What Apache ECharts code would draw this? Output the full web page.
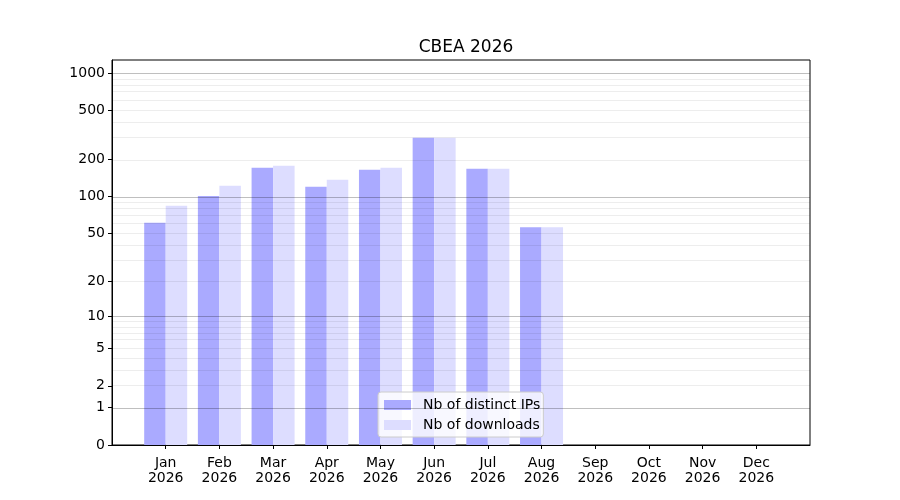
<!DOCTYPE html>
<html>
<head>
<meta charset="utf-8">
<script src="https://cdn.jsdelivr.net/npm/echarts@6/dist/echarts.min.js"></script>
<style>
  html, body { margin: 0; padding: 0; background: #fff; }
  #chart { width: 900px; height: 500px; }
</style>
</head>
<body>
<div id="chart"></div>
<script>
    // months of 2026
    var months = ['Jan', 'Feb', 'Mar', 'Apr', 'May', 'Jun', 'Jul', 'Aug', 'Sep', 'Oct', 'Nov', 'Dec'];
    var year = '2026';
    var distinctIPs = [61, 101, 171, 120, 165, 299, 168, 56, 0, 0, 0, 0];
    var downloads = [84, 122, 178, 137, 171, 299, 168, 56, 0, 0, 0, 0];
    var yTicks = [0, 1, 2, 5, 10, 20, 50, 100, 200, 500, 1000];
    var majorGrid = [1, 10, 100, 1000];
    var minorGrid = [2, 3, 4, 5, 6, 7, 8, 9, 20, 30, 40, 50, 60, 70, 80, 90, 200, 300, 400, 500, 600, 700, 800, 900];

    // y axis is log10(1 + x)
    function tr(v) { return Math.log10(1 + v); }

    var myChart = echarts.init(document.getElementById('chart'));
    var font = 'DejaVu Sans';

    var gridLines = [];
    minorGrid.forEach(function (v) {
        gridLines.push({ yAxis: tr(v), lineStyle: { color: 'rgba(0,0,0,0.07)', width: 1, type: 'solid' } });
    });
    majorGrid.forEach(function (v) {
        gridLines.push({ yAxis: tr(v), lineStyle: { color: 'rgba(0,0,0,0.25)', width: 1, type: 'solid' } });
    });

    var option = {
        animation: false,
        textStyle: { fontFamily: font },
        title: {
            text: 'CBEA 2026',
            left: 461,
            textAlign: 'center',
            top: 34,
            textStyle: { fontFamily: font, fontSize: 17, fontWeight: 'normal', color: '#000' }
        },
        grid: {
            left: 112, right: 90, top: 60, bottom: 55,
            show: true, borderColor: '#000', borderWidth: 1, backgroundColor: 'transparent'
        },
        legend: {
            data: ['Nb of distinct IPs', 'Nb of downloads'],
            orient: 'vertical',
            left: 378, top: 392,
            itemWidth: 27, itemHeight: 10, itemGap: 6,
            icon: 'rect',
            padding: [6, 3, 5, 6],
            backgroundColor: 'rgba(255,255,255,0.8)',
            borderColor: '#ccc', borderWidth: 1, borderRadius: 3,
            textStyle: { fontFamily: font, fontSize: 14, color: '#000', padding: [0, 0, 0, 7] }
        },
        xAxis: {
            type: 'value',
            min: -1, max: 12,
            splitLine: { show: false },
            axisLine: { show: true, onZero: false, lineStyle: { color: '#000', width: 1 } },
            axisTick: { show: true, length: 4, customValues: months.map(function (m, i) { return i; }), lineStyle: { color: '#000' } },
            axisLabel: {
                customValues: months.map(function (m, i) { return i; }),
                formatter: function (v) { return months[Math.round(v)] + '\n' + year; },
                color: '#000', fontSize: 14, lineHeight: 15, margin: 11, fontFamily: font
            }
        },
        yAxis: {
            type: 'value',
            min: 0, max: 3.105,
            splitLine: { show: false },
            axisLine: { show: true, onZero: false, lineStyle: { color: '#000', width: 1 } },
            axisTick: { show: true, length: 4, customValues: yTicks.map(tr), lineStyle: { color: '#000' } },
            axisLabel: {
                customValues: yTicks.map(tr),
                formatter: function (v) { return String(Math.round(Math.pow(10, v) - 1)); },
                color: '#000', fontSize: 14, margin: 7, fontFamily: font
            }
        },
        series: [
            {
                name: 'Nb of distinct IPs',
                type: 'bar',
                barWidth: 21.5,
                barGap: '0%',
                itemStyle: { color: '#aaaaff' },
                data: distinctIPs.map(function (v, i) { return [i, tr(v)]; }),
                z: 2
            },
            {
                name: 'Nb of downloads',
                type: 'bar',
                barWidth: 21.5,
                barGap: '0%',
                itemStyle: { color: '#ddddff' },
                data: downloads.map(function (v, i) { return [i, tr(v)]; }),
                z: 2
            },
            {
                name: 'grid',
                type: 'line',
                data: [],
                z: 3,
                silent: true,
                markLine: {
                    silent: true,
                    symbol: 'none',
                    label: { show: false },
                    animation: false,
                    data: gridLines
                }
            }
        ]
    };
    myChart.setOption(option);
</script>
</body>
</html>
